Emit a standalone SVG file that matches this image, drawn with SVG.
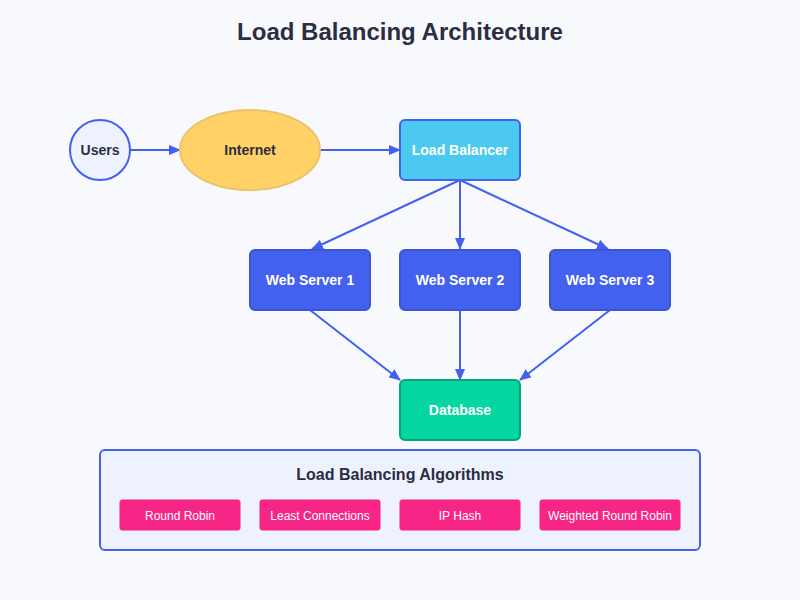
<svg xmlns="http://www.w3.org/2000/svg" width="800" height="600" viewBox="0 0 800 600">
<style>
text{font-family:"Liberation Sans",Arial,sans-serif;text-anchor:middle}
.t{font-size:24px;font-weight:bold;fill:#2b2d42}
.n{font-size:14px;font-weight:bold;fill:#2b2d42}
.w{font-size:14px;font-weight:bold;fill:#ffffff}
.srv{fill:#4361ee;stroke:#3a56d4;stroke-width:2}
.alg{fill:#f72585;stroke:#f72585;stroke-width:1}
.at{font-size:12px;fill:#ffffff}
.c{stroke:#4361ee;stroke-width:2;fill:none;marker-end:url(#ah)}
</style>
<defs>
<marker id="ah" markerWidth="12" markerHeight="10" refX="11" refY="5" orient="auto" markerUnits="userSpaceOnUse">
<polygon points="0 0, 12 5, 0 10" fill="#4361ee"/>
</marker>
</defs>
<rect width="800" height="600" fill="#f8f9fc"/>
<text class="t" x="400" y="40">Load Balancing Architecture</text>
<g id="connectors">
<line class="c" x1="130" y1="150" x2="180" y2="150"/>
<line class="c" x1="320" y1="150" x2="400" y2="150"/>
<line class="c" x1="460" y1="180" x2="312" y2="249"/>
<line class="c" x1="460" y1="180" x2="460" y2="249"/>
<line class="c" x1="460" y1="180" x2="608" y2="249"/>
<line class="c" x1="310" y1="310" x2="400" y2="380"/>
<line class="c" x1="460" y1="310" x2="460" y2="380"/>
<line class="c" x1="610" y1="310" x2="520" y2="380"/>
</g>
<g id="users">
<circle cx="100" cy="150" r="30" fill="#eef2ff" stroke="#4361ee" stroke-width="2"/>
<text class="n" x="100" y="155">Users</text>
</g>
<g id="internet">
<ellipse cx="250" cy="150" rx="70" ry="40" fill="#ffd166" stroke="#e9c46a" stroke-width="2"/>
<text class="n" x="250" y="155">Internet</text>
</g>
<g id="load-balancer">
<rect x="400" y="120" width="120" height="60" rx="5" fill="#4cc9f0" stroke="#4361ee" stroke-width="2"/>
<text class="w" x="460" y="155">Load Balancer</text>
</g>
<g id="web-server-1">
<rect class="srv" x="250" y="250" width="120" height="60" rx="5"/>
<text class="w" x="310" y="285">Web Server 1</text>
</g>
<g id="web-server-2">
<rect class="srv" x="400" y="250" width="120" height="60" rx="5"/>
<text class="w" x="460" y="285">Web Server 2</text>
</g>
<g id="web-server-3">
<rect class="srv" x="550" y="250" width="120" height="60" rx="5"/>
<text class="w" x="610" y="285">Web Server 3</text>
</g>
<g id="database">
<rect x="400" y="380" width="120" height="60" rx="5" fill="#06d6a0" stroke="#05a381" stroke-width="2"/>
<text class="w" x="460" y="415">Database</text>
</g>
<g id="algorithms">
<rect x="100" y="450" width="600" height="100" rx="5" fill="#eef2ff" stroke="#4361ee" stroke-width="2"/>
<text class="n" x="400" y="480" style="font-size:16px">Load Balancing Algorithms</text>
<g id="round-robin"><rect class="alg" x="120" y="500" width="120" height="30" rx="2"/><text class="at" x="180" y="520">Round Robin</text></g>
<g id="least-connections"><rect class="alg" x="260" y="500" width="120" height="30" rx="2"/><text class="at" x="320" y="520">Least Connections</text></g>
<g id="ip-hash"><rect class="alg" x="400" y="500" width="120" height="30" rx="2"/><text class="at" x="460" y="520">IP Hash</text></g>
<g id="weighted-round-robin"><rect class="alg" x="540" y="500" width="140" height="30" rx="2"/><text class="at" x="610" y="520">Weighted Round Robin</text></g>
</g>
</svg>
